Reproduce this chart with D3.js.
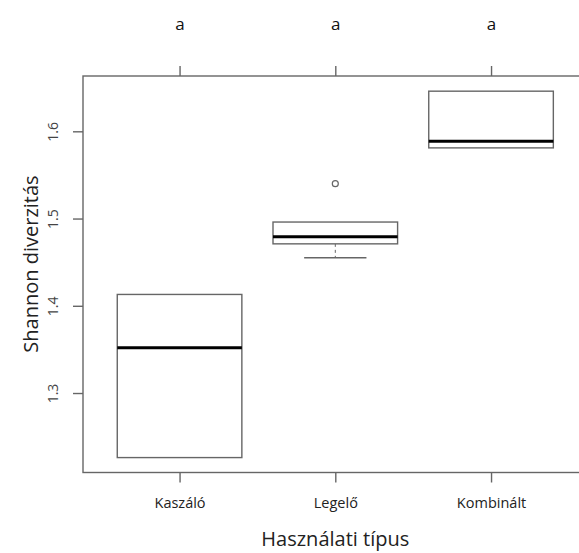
<!DOCTYPE html>
<meta charset="utf-8">

<style>
body{
	background-color: white;
	margin: 0px;
}
text{
	font-family: "Open Sans", "Noto Sans", sans-serif;
}
</style>

<body></body>

<script src="https://cdn.jsdelivr.net/npm/d3@7"></script>

<script>

// values
var categories  = ['Kaszáló', 'Legelő', 'Kombinált']
var lowWhisker  = [1.226, 1.455, 1.581]
var lowerQ      = [1.226, 1.471, 1.581]
var medians     = [1.352, 1.479, 1.5885]
var upperQ      = [1.413, 1.496, 1.646]
var highWhisker = [1.413, 1.496, 1.646]
var outliers    = [[], [1.540], []]
var letters     = ['a', 'a', 'a']
var yTicks      = [1.3, 1.4, 1.5, 1.6]

var width = 579, height = 553

var svg = d3.select('body')
	.append('svg')
		.attr('width', width)
		.attr('height', height)

// R style plot region, right side runs off the picture
var x = d3.scaleLinear().domain([0.38, 3.62]).range([83, 587.6])
var y = d3.scaleLinear().domain([1.2089, 1.6634]).range([472.5, 76])

var boxes = categories.map(function(c, i){
	return {name: c, i: i + 1, lo: lowWhisker[i], q1: lowerQ[i], med: medians[i],
		q3: upperQ[i], hi: highWhisker[i], out: outliers[i], letter: letters[i]}
})

var lineCol = '#666'

// frame
svg.append('rect')
		.attr('x', x(0.38)).attr('y', y(1.6634))
		.attr('width', x(3.62) - x(0.38))
		.attr('height', y(1.2089) - y(1.6634))
		.attr('fill', 'none')
		.attr('stroke', lineCol)
		.attr('stroke-width', 1.4)

// left axis, labels turned like R's las=0
var yAxis = svg.append('g')
		.attr('transform', 'translate(' + x(0.38) + ',0)')
		.call(d3.axisLeft(y).tickValues(yTicks).tickSize(10).tickFormat(d3.format('.1f')))
yAxis.select('.domain').remove()
yAxis.selectAll('line').attr('stroke', lineCol).attr('stroke-width', 1.4)
yAxis.selectAll('text')
		.attr('transform', 'translate(-25,0) rotate(-90)')
		.attr('x', 0)
		.attr('y', 0)
		.attr('dy', 0)
		.attr('text-anchor', 'middle')
		.attr('font-size', 14)
		.attr('fill', '#444')
		.style('font-family', '"Open Sans", sans-serif')

// bottom axis with category names
var xb = svg.append('g')
		.attr('transform', 'translate(0,' + y(1.2089) + ')')
		.call(d3.axisBottom(x).tickValues([1, 2, 3]).tickSize(10).tickPadding(15)
			.tickFormat(function(d){ return categories[d - 1] }))
xb.select('.domain').remove()
xb.selectAll('line').attr('stroke', lineCol).attr('stroke-width', 1.4)
xb.selectAll('text').attr('font-size', 14.5).attr('fill', '#222')
		.style('font-family', '"Open Sans", sans-serif')

// top axis with group letters
var xt = svg.append('g')
		.attr('transform', 'translate(0,' + y(1.6634) + ')')
		.call(d3.axisTop(x).tickValues([1, 2, 3]).tickSize(10).tickPadding(36)
			.tickFormat(function(d){ return letters[d - 1] }))
xt.select('.domain').remove()
xt.selectAll('line').attr('stroke', lineCol).attr('stroke-width', 1.4)
xt.selectAll('text').attr('font-size', 17).attr('fill', '#111')
		.style('font-family', '"Open Sans", sans-serif')

var bw = 0.4, cap = 0.2

var g = svg.append('g').selectAll('g').data(boxes).enter().append('g')

// whiskers
g.filter(function(d){ return d.lo < d.q1 }).append('line')
		.attr('x1', function(d){ return x(d.i) }).attr('x2', function(d){ return x(d.i) })
		.attr('y1', function(d){ return y(d.q1) }).attr('y2', function(d){ return y(d.lo) })
		.attr('stroke', lineCol).attr('stroke-dasharray', '3,3')
g.filter(function(d){ return d.lo < d.q1 }).append('line')
		.attr('x1', function(d){ return x(d.i - cap) }).attr('x2', function(d){ return x(d.i + cap) })
		.attr('y1', function(d){ return y(d.lo) }).attr('y2', function(d){ return y(d.lo) })
		.attr('stroke', lineCol).attr('stroke-width', 1.4)
g.filter(function(d){ return d.hi > d.q3 }).append('line')
		.attr('x1', function(d){ return x(d.i) }).attr('x2', function(d){ return x(d.i) })
		.attr('y1', function(d){ return y(d.q3) }).attr('y2', function(d){ return y(d.hi) })
		.attr('stroke', lineCol).attr('stroke-dasharray', '3,3')
g.filter(function(d){ return d.hi > d.q3 }).append('line')
		.attr('x1', function(d){ return x(d.i - cap) }).attr('x2', function(d){ return x(d.i + cap) })
		.attr('y1', function(d){ return y(d.hi) }).attr('y2', function(d){ return y(d.hi) })
		.attr('stroke', lineCol).attr('stroke-width', 1.4)

// boxes
g.append('rect')
		.attr('x', function(d){ return x(d.i - bw) })
		.attr('width', function(d){ return x(d.i + bw) - x(d.i - bw) })
		.attr('y', function(d){ return y(d.q3) })
		.attr('height', function(d){ return y(d.q1) - y(d.q3) })
		.attr('fill', 'white')
		.attr('stroke', lineCol)
		.attr('stroke-width', 1.4)

// medians
g.append('line')
		.attr('x1', function(d){ return x(d.i - bw) }).attr('x2', function(d){ return x(d.i + bw) })
		.attr('y1', function(d){ return y(d.med) }).attr('y2', function(d){ return y(d.med) })
		.attr('stroke', '#000').attr('stroke-width', 3)

// outliers
g.selectAll('circle').data(function(d){ return d.out.map(function(v){ return {i: d.i, v: v} }) })
	.enter().append('circle')
		.attr('cx', function(d){ return x(d.i) })
		.attr('cy', function(d){ return y(d.v) })
		.attr('r', 3)
		.attr('fill', 'none')
		.attr('stroke', lineCol)
		.attr('stroke-width', 1.2)

// axis titles
svg.append('text')
		.attr('x', x(2)).attr('y', 546)
		.attr('text-anchor', 'middle')
		.attr('font-size', 20)
		.attr('fill', '#222')
		.text('Használati típus')

svg.append('text')
		.attr('transform', 'translate(38,' + 264 + ') rotate(-90)')
		.attr('text-anchor', 'middle')
		.attr('font-size', 20)
		.attr('fill', '#222')
		.text('Shannon diverzitás')

</script>
